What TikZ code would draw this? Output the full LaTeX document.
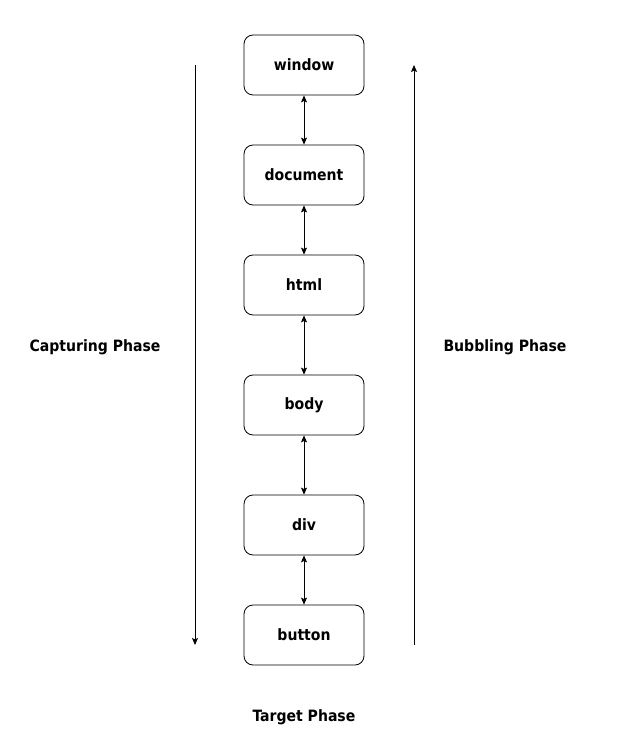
\documentclass[tikz,border=0pt]{standalone}
\usepackage{fontspec}
\setmainfont{DejaVu Sans Condensed}[BoldFont={DejaVu Sans Condensed Bold}]
\usetikzlibrary{arrows.meta}
\begin{document}
\begin{tikzpicture}[x=1pt,y=-1pt,
  elem/.style={draw, rounded corners=9pt, minimum width=120pt, minimum height=60pt, inner sep=0pt, font=\fontsize{15.6}{18}\selectfont\bfseries, line width=0.8pt},
  lbl/.style={font=\fontsize{15.6}{18}\selectfont\bfseries},
  tip/.style={-{Stealth[length=7pt,width=6pt,inset=1.5pt]}, line width=0.8pt},
  dtip/.style={{Stealth[length=7pt,width=6pt,inset=1.5pt]}-{Stealth[length=7pt,width=6pt,inset=1.5pt]}, line width=0.8pt}]
\useasboundingbox (0,0) rectangle (624,743);
\fill[white] (0,0) rectangle (624,743);
\node[elem] (window) at (304,65) {window};
\node[elem] (document) at (304,175) {document};
\node[elem] (html) at (304,285) {html};
\node[elem] (body) at (304,405) {body};
\node[elem] (div) at (304,525) {div};
\node[elem] (button) at (304,635) {button};
\draw[dtip] (window) -- (document);
\draw[dtip] (document) -- (html);
\draw[dtip] (html) -- (body);
\draw[dtip] (body) -- (div);
\draw[dtip] (div) -- (button);
\coordinate (cs) at (195,65);
\coordinate (ce) at (195,645);
\coordinate (bs) at (414,645);
\coordinate (be) at (414,65);
\draw[tip] (cs) -- (ce);
\draw[tip] (bs) -- (be);
\node[lbl] (capt) at (95,347) {Capturing Phase};
\node[lbl] (bubb) at (505,347) {Bubbling Phase};
\node[lbl] (targ) at (304,717) {Target Phase};
\end{tikzpicture}
\end{document}
